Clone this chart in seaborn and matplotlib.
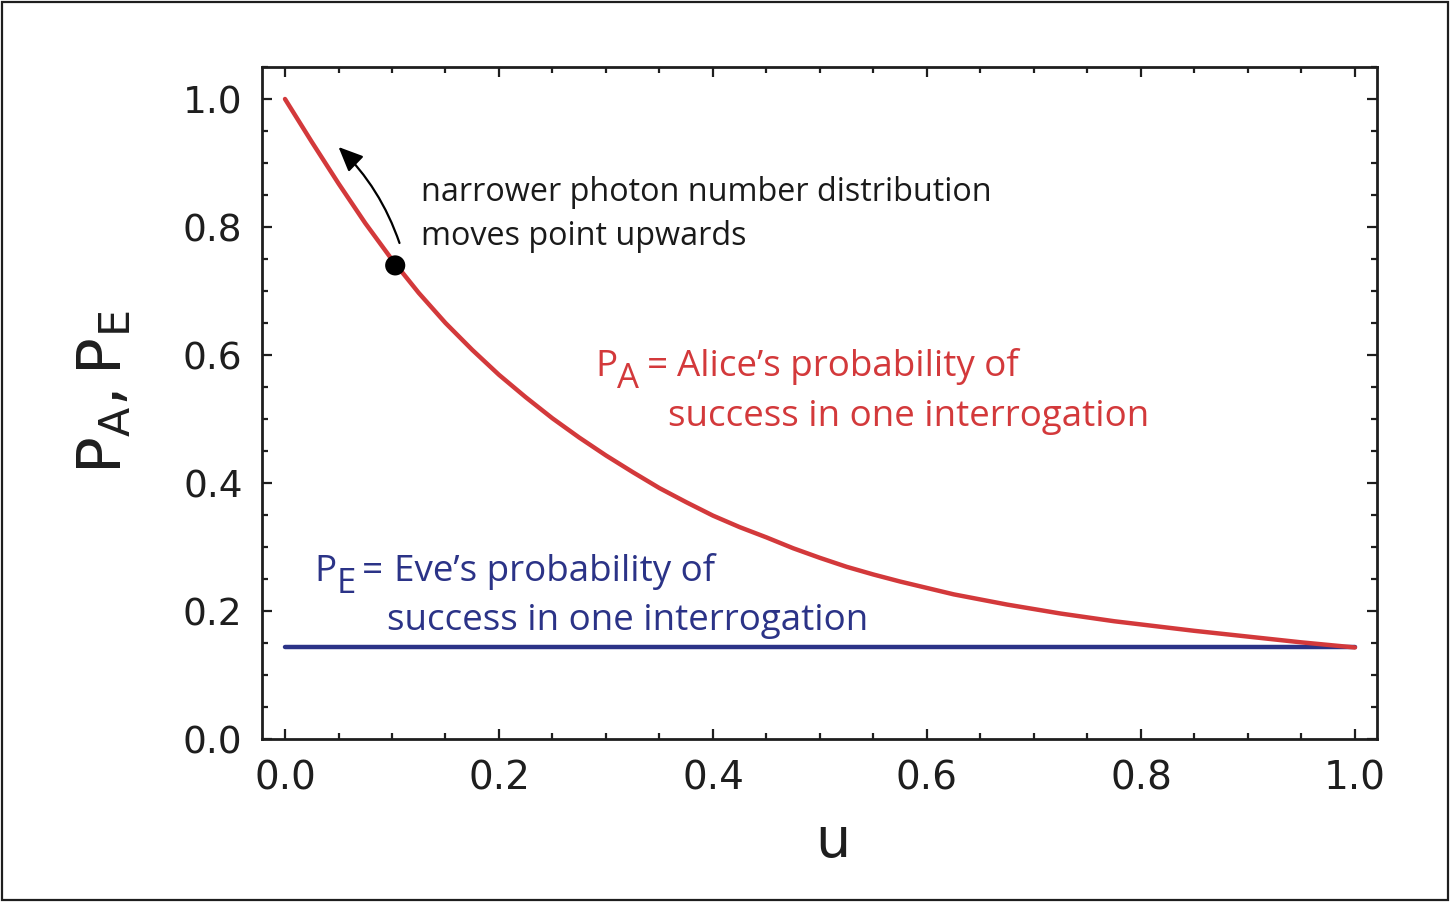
import matplotlib
matplotlib.use("Agg")
import matplotlib.pyplot as plt
from matplotlib.patches import Rectangle
from matplotlib.ticker import MultipleLocator
import seaborn as sns

# values
u_vals = [0.0, 0.025, 0.05, 0.075, 0.10, 0.125, 0.15, 0.175, 0.20, 0.225,
          0.25, 0.275, 0.30, 0.325, 0.35, 0.375, 0.40, 0.425, 0.45, 0.475,
          0.50, 0.525, 0.55, 0.575, 0.60, 0.625, 0.65, 0.675, 0.70, 0.725,
          0.75, 0.775, 0.80, 0.85, 0.90, 0.95, 1.00]
p_alice = [1.000, 0.933, 0.868, 0.806, 0.749, 0.697, 0.650, 0.608, 0.569, 0.534,
           0.501, 0.471, 0.443, 0.417, 0.392, 0.370, 0.349, 0.331, 0.315, 0.298,
           0.283, 0.269, 0.257, 0.246, 0.236, 0.226, 0.218, 0.210, 0.203, 0.196,
           0.190, 0.184, 0.179, 0.169, 0.160, 0.151, 0.143]
eve_u = [0.0, 1.0]
p_eve = [0.143, 0.143]
point_u = [0.103]
point_p = [0.740]

RED = "#d3393b"
BLUE = "#2b3387"

sns.set_theme(style="ticks")
plt.rcParams['font.family'] = ['DejaVu Sans']

W, H = 1451, 904
fig = plt.figure(figsize=(W / 100, H / 100), dpi=100)
ax = fig.add_axes([262 / W, 1 - 740 / H, (1377 - 262) / W, (740 - 68) / H])

sns.lineplot(x=eve_u, y=p_eve, ax=ax, color=BLUE, lw=3.2)
sns.lineplot(x=u_vals, y=p_alice, ax=ax, color=RED, lw=3.2)
sns.scatterplot(x=point_u, y=point_p, ax=ax, color="black", s=210,
                edgecolor="none", zorder=5)

ax.annotate("", xy=(0.050, 0.925), xytext=(0.107, 0.775),
            arrowprops=dict(arrowstyle="-|>,head_length=0.5,head_width=0.22",
                            color="black", lw=1.6,
                            mutation_scale=30, shrinkA=0, shrinkB=0,
                            connectionstyle="arc3,rad=0.12"))

ax.set_xlim(-0.0215, 1.0206)
ax.set_ylim(0, 1.05)
ax.xaxis.set_major_locator(MultipleLocator(0.2))
ax.xaxis.set_minor_locator(MultipleLocator(0.05))
ax.yaxis.set_major_locator(MultipleLocator(0.2))
ax.yaxis.set_minor_locator(MultipleLocator(0.05))
ax.tick_params(which="both", direction="in", top=True, right=True,
               width=1.6, colors="#1e1e1e")
ax.tick_params(which="major", length=7)
ax.tick_params(which="minor", length=4.5)
ax.tick_params(axis="x", labelsize=28, pad=14)
ax.tick_params(axis="y", labelsize=27, pad=14)
ax.set_xticklabels([f"{v:.1f}" for v in ax.get_xticks()])
ax.set_yticklabels([f"{v:.1f}" for v in ax.get_yticks()])
ax.set_xlim(-0.0215, 1.0206)
ax.set_ylim(0, 1.05)
for s in ax.spines.values():
    s.set_linewidth(2.0)
    s.set_color("#1e1e1e")

ax.set_xlabel("u", fontsize=40, color="#1e1e1e")
ax.xaxis.set_label_coords(0.512, -0.112)
ax.set_ylabel(r"$\mathregular{P_A, P_E}$", fontsize=44, color="#1e1e1e")
ax.yaxis.set_label_coords(-0.115, 0.517)


def fx(px):
    return px / W


def fy(py):
    return 1 - py / H


note_font = "Open Sans"
fig.text(fx(421), fy(201), "narrower photon number distribution",
         fontsize=23.3, family=note_font, color="#1a1a1a", va="baseline")
fig.text(fx(421), fy(245), "moves point upwards",
         fontsize=23.3, family=note_font, color="#1a1a1a", va="baseline")

# Alice label
fig.text(fx(595), fy(376), "P", fontsize=26.5, family=note_font, color=RED, va="baseline")
fig.text(fx(617), fy(388), "A", fontsize=25, family=note_font, color=RED, va="baseline")
fig.text(fx(647), fy(376), "=", fontsize=26.5, family=note_font, color=RED, va="baseline")
fig.text(fx(677), fy(376), "Alice\u2019s probability of", fontsize=26.5,
         family=note_font, color=RED, va="baseline")
fig.text(fx(668), fy(426), "success in one interrogation", fontsize=26.5,
         family=note_font, color=RED, va="baseline")

# Eve label
fig.text(fx(314), fy(581), "P", fontsize=26.5, family=note_font, color=BLUE, va="baseline")
fig.text(fx(337), fy(593), "E", fontsize=25, family=note_font, color=BLUE, va="baseline")
fig.text(fx(362), fy(581), "=", fontsize=26.5, family=note_font, color=BLUE, va="baseline")
fig.text(fx(394), fy(581), "Eve\u2019s probability of", fontsize=26.5,
         family=note_font, color=BLUE, va="baseline")
fig.text(fx(387), fy(630), "success in one interrogation", fontsize=26.5,
         family=note_font, color=BLUE, va="baseline")

fig.add_artist(Rectangle((2 / W, 3 / H), 1 - 5 / W, 1 - 6 / H,
                         transform=fig.transFigure, fill=False,
                         lw=1.6, ec="#1e1e1e"))

fig.savefig("out.png", dpi=100)
